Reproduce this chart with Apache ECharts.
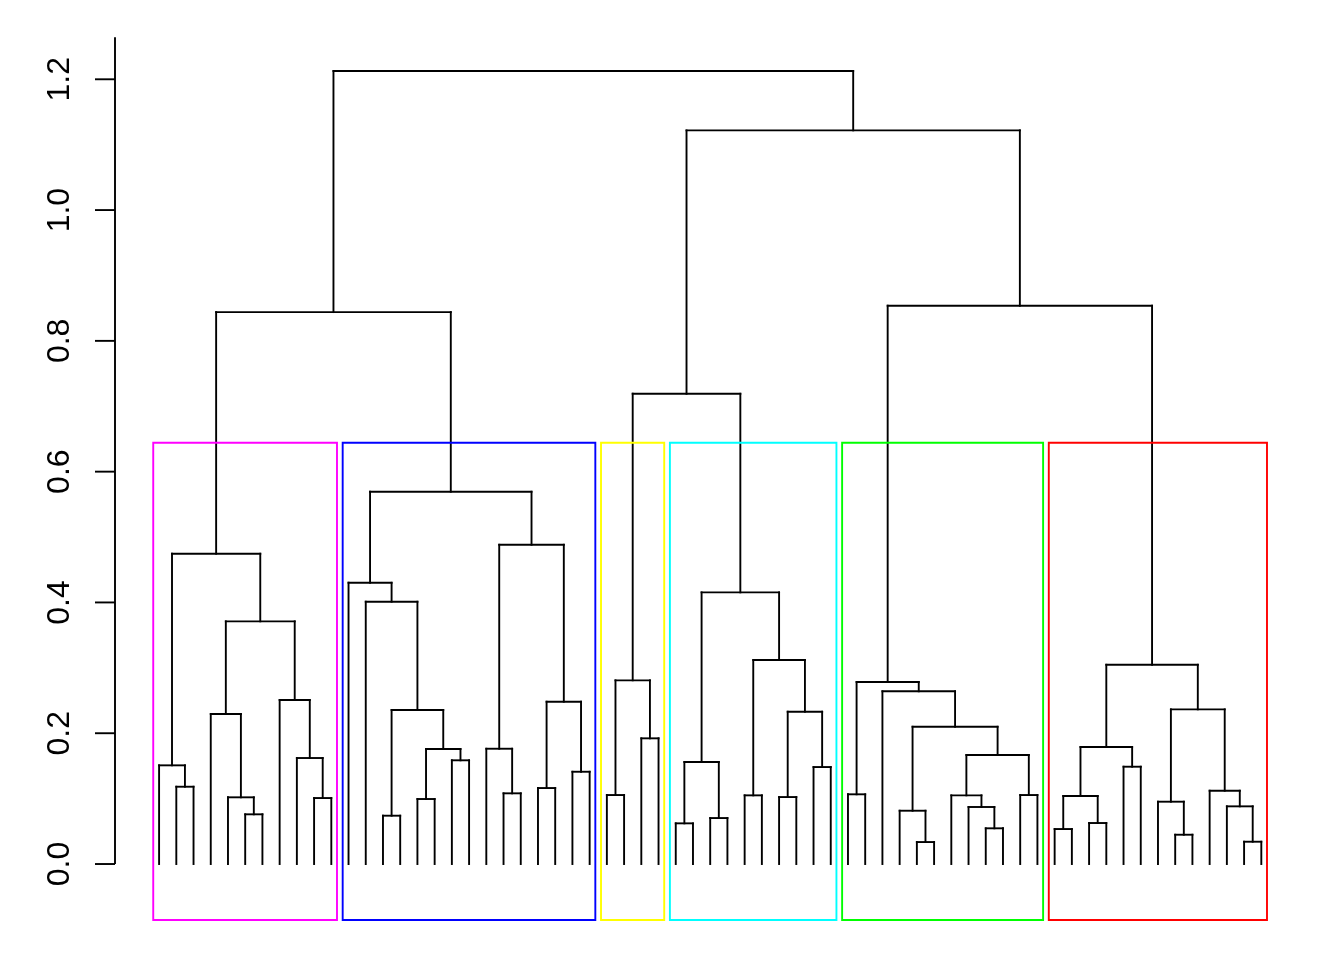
<!DOCTYPE html>
<html><head><meta charset="utf-8">
<script src="https://cdn.jsdelivr.net/npm/echarts@6/dist/echarts.min.js"></script>
<style>html,body{margin:0;padding:0;background:#fff}#c{width:1344px;height:960px}</style>
</head><body><div id="c"></div>
<script>
// Tree nodes: [mergeHeight, leftChild, rightChild]; a leaf is 0.
const magentaTree = [0.4745,
  [0.1509, 0, [0.1182, 0, 0]],
  [0.3711,
    [0.2294, 0, [0.1020, 0, [0.0760, 0, 0]]],
    [0.2508, 0, [0.1621, 0, [0.1009, 0, 0]]]]];
const blueTree = [0.5693,
  [0.4301, 0, [0.4011, 0, [0.2355, [0.0739, 0, 0], [0.1758, [0.0994, 0, 0], [0.1586, 0, 0]]]]],
  [0.4882, [0.1763, 0, [0.1081, 0, 0]], [0.2482, [0.1162, 0, 0], [0.1411, 0, 0]]]];
const yellowTree = [0.2809, [0.1055, 0, 0], [0.1922, 0, 0]];
const cyanTree = [0.4154,
  [0.1560, [0.0622, 0, 0], [0.0703, 0, 0]],
  [0.3119, [0.1050, 0, 0], [0.2329, [0.1024, 0, 0], [0.1483, 0, 0]]]];
const greenTree = [0.2783, [0.1066, 0, 0],
  [0.2641, 0, [0.2099, [0.0815, 0, [0.0336, 0, 0]],
    [0.1667, [0.1050, 0, [0.0872, 0, [0.0546, 0, 0]]], [0.1055, 0, 0]]]]];
const redTree = [0.3047,
  [0.1789, [0.1040, [0.0535, 0, 0], [0.0627, 0, 0]], [0.1488, 0, 0]],
  [0.2365, [0.0953, 0, [0.0448, 0, 0]], [0.1121, 0, [0.0882, 0, [0.0341, 0, 0]]]]];

const clusterTrees = [magentaTree, blueTree, yellowTree, cyanTree, greenTree, redTree];
const clusterColors = ['#FF00FF', '#0000FF', '#FFFF00', '#00FFFF', '#00FF00', '#FF0000'];
const upperHeights = { magentaBlue: 0.8440, yellowCyan: 0.7191, greenRed: 0.8537, right: 1.1219, root: 1.2126 };
const cutHeight = 0.6442;
const yTicks = [0, 0.2, 0.4, 0.6, 0.8, 1.0, 1.2];
const yRange = [-0.0856, 1.2642];
const xRange = [-1.56, 67.56];

const rootTree = [upperHeights.root,
  [upperHeights.magentaBlue, magentaTree, blueTree],
  [upperHeights.right,
    [upperHeights.yellowCyan, yellowTree, cyanTree],
    [upperHeights.greenRed, greenTree, redTree]]];

// layout
let leafCounter = 0;
const segments = [];
function layout(node) {
  if (node === 0) { leafCounter += 1; return { x: leafCounter, h: 0 }; }
  const l = layout(node[1]), r = layout(node[2]), h = node[0];
  segments.push([l.x, l.h, l.x, h]);
  segments.push([l.x, h, r.x, h]);
  segments.push([r.x, h, r.x, r.h]);
  return { x: (l.x + r.x) / 2, h: h };
}
layout(rootTree);

function countLeaves(node) { return node === 0 ? 1 : countLeaves(node[1]) + countLeaves(node[2]); }
const boxes = [];
let start = 1;
clusterTrees.forEach((t, i) => {
  const n = countLeaves(t);
  boxes.push([start - 0.34, start + n - 1 + 0.33, cutHeight, i]);
  start += n;
});

const chart = echarts.init(document.getElementById('c'), null, { renderer: 'canvas' });
const LW = 1.9;
const TICK_LEN = 20;
chart.setOption({
  animation: false,
  backgroundColor: '#ffffff',
  grid: { left: 115, right: 38.6, top: 37.3, bottom: 40 },
  xAxis: { type: 'value', min: xRange[0], max: xRange[1], show: false },
  yAxis: {
    type: 'value', min: yRange[0], max: yRange[1],
    axisLine: { show: false },
    splitLine: { show: false },
    axisTick: { show: false },
    axisLabel: {
      customValues: yTicks, rotate: 90, margin: 39,
      fontSize: 32, fontFamily: 'Liberation Sans', color: '#000',
      formatter: v => Number(v).toFixed(1)
    }
  },
  series: [
    {
      type: 'custom', name: 'axisLine', silent: true, clip: false,
      data: [[xRange[0], 0, xRange[0], yRange[1]]],
      encode: { x: [0, 2], y: [1, 3] },
      renderItem: (params, api) => {
        const p1 = api.coord([api.value(0), api.value(1)]);
        const p2 = api.coord([api.value(2), api.value(3)]);
        return { type: 'line', shape: { x1: p1[0], y1: p1[1], x2: p2[0], y2: p2[1] },
          style: { stroke: '#000', lineWidth: LW } };
      }
    },
    {
      type: 'custom', name: 'axisTicks', silent: true, clip: false,
      data: yTicks.map(v => [xRange[0], v]),
      encode: { x: 0, y: 1 },
      renderItem: (params, api) => {
        const p = api.coord([api.value(0), api.value(1)]);
        return { type: 'line', shape: { x1: p[0] - TICK_LEN, y1: p[1], x2: p[0], y2: p[1] },
          style: { stroke: '#000', lineWidth: LW } };
      }
    },
    {
      type: 'custom', name: 'dendrogram', silent: true, clip: false,
      data: segments,
      encode: { x: [0, 2], y: [1, 3] },
      renderItem: (params, api) => {
        const p1 = api.coord([api.value(0), api.value(1)]);
        const p2 = api.coord([api.value(2), api.value(3)]);
        return { type: 'line', shape: { x1: p1[0], y1: p1[1], x2: p2[0], y2: p2[1] },
          style: { stroke: '#000', lineWidth: LW, lineCap: 'square' } };
      }
    },
    {
      type: 'custom', name: 'clusters', silent: true, clip: false,
      data: boxes,
      encode: { x: [0, 1], y: [2] },
      renderItem: (params, api) => {
        const tl = api.coord([api.value(0), api.value(2)]);
        const br = api.coord([api.value(1), yRange[0]]);
        return { type: 'rect', shape: { x: tl[0], y: tl[1], width: br[0] - tl[0], height: br[1] - tl[1] },
          style: { fill: 'none', stroke: clusterColors[api.value(3)], lineWidth: LW } };
      }
    }
  ]
});
</script></body></html>
